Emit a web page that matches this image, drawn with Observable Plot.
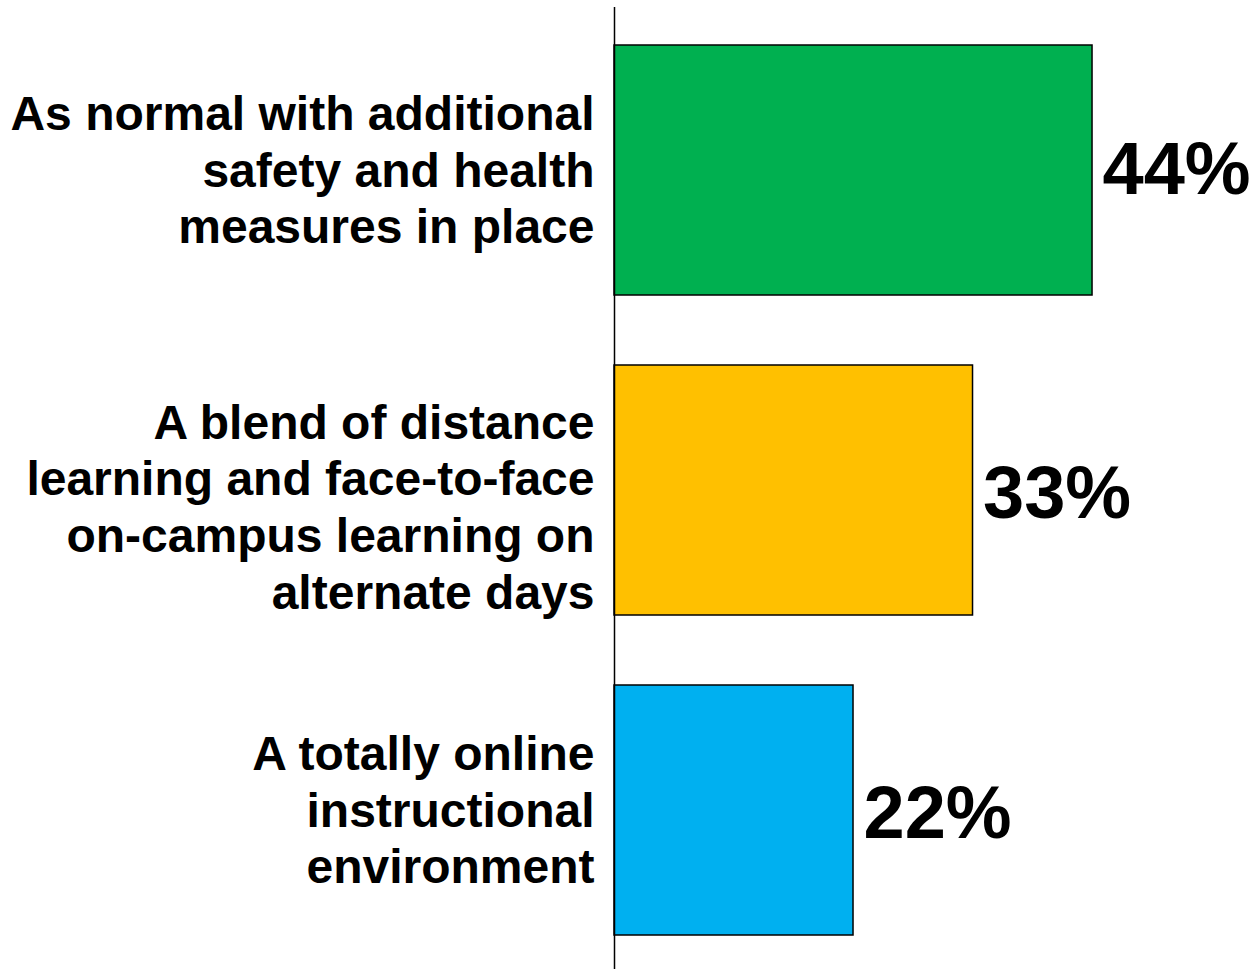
<!DOCTYPE html>
<html><head><meta charset="utf-8">
<script src="https://cdn.jsdelivr.net/npm/d3@7"></script>
<script src="https://cdn.jsdelivr.net/npm/@observablehq/plot@0.6"></script>
<style>html,body{margin:0;padding:0;background:#fff} svg{display:block}</style>
</head><body><div id="chart"></div>
<script>
const categories = [
  "As normal with additional\nsafety and health\nmeasures in place",
  "A blend of distance\nlearning and face-to-face\non-campus learning on\nalternate days",
  "A totally online\ninstructional\nenvironment"
];
const values = [44, 33, 22];
const colors = ["#00B050", "#FFC000", "#00B0F0"];
const valueLabels = ["44%", "33%", "22%"];

const data = categories.map((c, i) => ({category: c, value: values[i], color: colors[i], label: valueLabels[i], idx: i}));
const font = "'Liberation Sans', Arial, Helvetica, sans-serif";

const labelOpts = {x: 0, y: "category", text: "category", textAnchor: "end", dx: -20, fontSize: 48, fontWeight: "bold", lineHeight: 1.18, fill: "#000"};
const valueOpts = {x: "value", y: "category", text: "label", textAnchor: "start", dx: 10, fontSize: 74, fontWeight: "bold", fill: "#000"};

const chart = Plot.plot({
  width: 1255, height: 969,
  marginLeft: 614, marginRight: 0, marginTop: 7, marginBottom: 0,
  style: {fontFamily: font, background: "#fff", color: "#000"},
  x: {domain: [0, 59], axis: null},
  y: {domain: categories, range: [10, 970], paddingInner: 0.22, paddingOuter: 0.11, axis: null},
  color: {type: "identity"},
  marks: [
    Plot.barX(data, {x: "value", y: "category", fill: "color", stroke: "#000", strokeWidth: 1.5}),
    Plot.ruleX([0], {stroke: "#000", strokeWidth: 1.5}),
    Plot.text(data, {...labelOpts, filter: d => d.idx !== 1, dy: -2}),
    Plot.text(data, {...labelOpts, filter: d => d.idx === 1, dy: 15}),
    Plot.text(data, {...valueOpts, filter: d => d.idx === 0}),
    Plot.text(data, {...valueOpts, filter: d => d.idx !== 0, dy: 4})
  ]
});
document.getElementById("chart").appendChild(chart);
</script>
</body></html>
